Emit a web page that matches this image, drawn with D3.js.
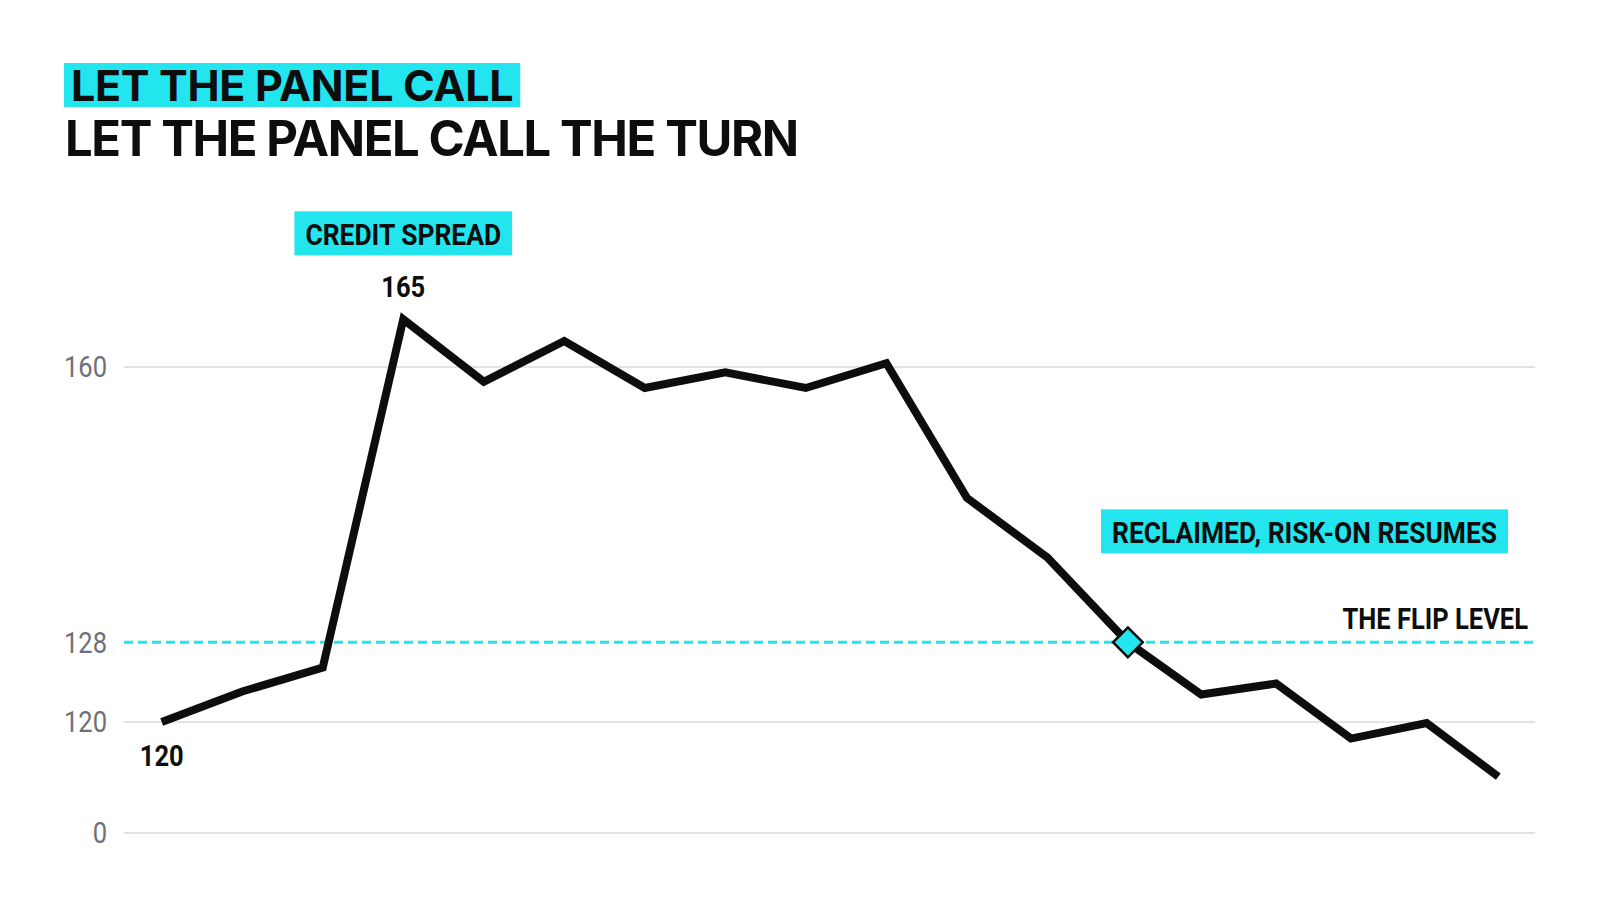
<!DOCTYPE html>
<html>
<head>
<meta charset="utf-8">
<script src="https://cdn.jsdelivr.net/npm/d3@7"></script>
<style>
  html, body { margin: 0; padding: 0; background: #fff; }
  svg { display: block; }
</style>
</head>
<body>
<div id="chart"></div>
<script>
// data
const weeks  = [0, 1, 2, 3, 4, 5, 6, 7, 8, 9, 10, 11, 12, 12.91, 13.84, 14.77, 15.71, 16.6];
const spread = [120, 123, 125.4, 166.3, 158.1, 163.4, 157.3, 159.3, 157.3, 160.5, 143.9, 137.1, 128, 122.7, 123.8, 118.4, 119.9, 114.8];
const yTicks = [160, 128, 120];
const baseTick = 0;
const flipLevel = 128;
const peakIdx = 3;
const flipIdx = 12;

const titleTag = "LET THE PANEL CALL";
const titleMain = "LET THE PANEL CALL THE TURN";
const seriesTag = "CREDIT SPREAD";
const flipTag = "RECLAIMED, RISK-ON RESUMES";
const flipLabel = "THE FLIP LEVEL";
const peakLabel = "165";
const startLabel = "120";

const W = 1600, H = 914;
const CYAN = "#22e5ee";
const INK = "#0d0d0d";
const GRID = "#e3e3e3";
const SQUEEZE = 0.88; // fake condensed face

const plot = { left: 124, right: 1535, bottom: 833 };

const svg = d3.select("#chart").append("svg")
    .attr("width", W)
    .attr("height", H);

const x = d3.scaleLinear()
    .domain([0, d3.max(weeks)])
    .range([161.7, 1498.3]);

// log scale for the data band, zero sits on its own baseline below
const y = d3.scaleLog()
    .domain([120, 160])
    .range([722, 367]);

function condText(g, px, py, str, size, weight, fill, anchor) {
    return g.append("text")
        .attr("transform", `translate(${px},${py}) scale(${SQUEEZE},1)`)
        .attr("text-anchor", anchor || "start")
        .attr("font-family", "Roboto, 'Noto Sans', sans-serif")
        .attr("font-weight", weight)
        .attr("font-size", size)
        .attr("fill", fill)
        .text(str);
}

// cyan tag box behind condensed label; anchor 'middle' or 'end'
function tag(g, px, baseline, str, anchor) {
    const box = g.append("rect").attr("fill", CYAN);
    const t = condText(g, px, baseline, str, 30, 700, INK, anchor);
    const w = t.node().getComputedTextLength() * SQUEEZE;
    const x0 = anchor === "middle" ? px - w / 2 : px - w;
    box.attr("x", x0 - 11)
        .attr("y", baseline - 34)
        .attr("width", w + 22)
        .attr("height", 44);
}

// title
const title = svg.append("g");
const tagBg = title.append("rect").attr("fill", CYAN);
const tagText = title.append("text")
    .attr("x", 71).attr("y", 101)
    .attr("font-family", "Inter, 'Open Sans', sans-serif")
    .attr("font-weight", 700)
    .attr("font-size", 43)
    .attr("letter-spacing", -0.3)
    .attr("fill", INK)
    .text(titleTag);
const tw = tagText.node().getComputedTextLength();
tagBg.attr("x", 64).attr("y", 63).attr("width", tw + 14).attr("height", 44);

title.append("text")
    .attr("x", 65).attr("y", 156)
    .attr("font-family", "Inter, 'Open Sans', sans-serif")
    .attr("font-weight", 700)
    .attr("font-size", 49)
    .attr("letter-spacing", -1.4)
    .attr("fill", INK)
    .text(titleMain);

// grid
const grid = svg.append("g");
const gridVals = yTicks.filter(d => d !== flipLevel);
grid.selectAll("line.g")
    .data(gridVals)
    .enter().append("line")
    .attr("class", "g")
    .attr("x1", plot.left).attr("x2", plot.right)
    .attr("y1", d => y(d)).attr("y2", d => y(d))
    .attr("stroke", GRID).attr("stroke-width", 2);

grid.append("line")
    .attr("x1", plot.left).attr("x2", plot.right)
    .attr("y1", plot.bottom).attr("y2", plot.bottom)
    .attr("stroke", GRID).attr("stroke-width", 2);

// tick labels
const ticks = svg.append("g");
yTicks.forEach(d => condText(ticks, 107, y(d) + 10.3, d, 29, 400, "#6d7079", "end"));
condText(ticks, 107, plot.bottom + 10.3, baseTick, 29, 400, "#6d7079", "end");

// flip level
svg.append("line")
    .attr("x1", plot.left).attr("x2", plot.right)
    .attr("y1", y(flipLevel)).attr("y2", y(flipLevel))
    .attr("stroke", CYAN)
    .attr("stroke-width", 3)
    .attr("stroke-dasharray", "9,5");

// series line
const line = d3.line()
    .x((d, i) => x(weeks[i]))
    .y(d => y(d));

svg.append("path")
    .datum(spread)
    .attr("d", line)
    .attr("fill", "none")
    .attr("stroke", INK)
    .attr("stroke-width", 8)
    .attr("stroke-linejoin", "miter");

// crossing marker
const fx = x(weeks[flipIdx]), fy = y(spread[flipIdx]);
svg.append("rect")
    .attr("x", -10.5).attr("y", -10.5)
    .attr("width", 21).attr("height", 21)
    .attr("transform", `translate(${fx},${fy}) rotate(45)`)
    .attr("fill", CYAN)
    .attr("stroke", INK)
    .attr("stroke-width", 2.5);

// annotations
const ann = svg.append("g");
const px = x(weeks[peakIdx]), py = y(spread[peakIdx]);
tag(ann, px, py - 74, seriesTag, "middle");
condText(ann, px, py - 22, peakLabel, 29, 700, INK, "middle");
condText(ann, x(weeks[0]), y(spread[0]) + 44, startLabel, 29, 700, INK, "middle");

tag(ann, 1497, y(flipLevel) - 99, flipTag, "end");
condText(ann, 1528, y(flipLevel) - 13.3, flipLabel, 29, 700, INK, "end");
</script>
</body>
</html>
